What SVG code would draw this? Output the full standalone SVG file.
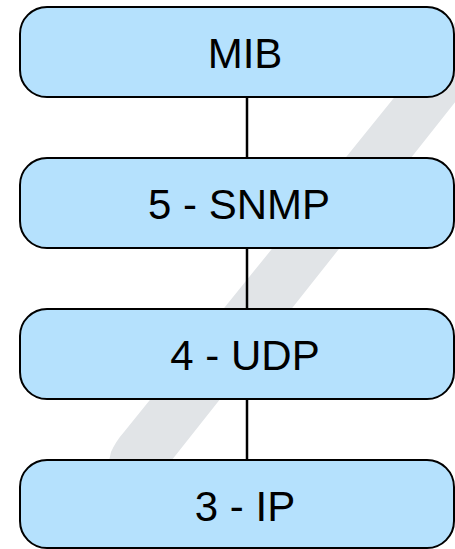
<svg xmlns="http://www.w3.org/2000/svg" width="455" height="549" viewBox="0 0 455 549">
<style>
.box{fill:#b5e1fd;stroke:#000;stroke-width:2}
.lbl{font-family:"Liberation Sans",Arial,sans-serif;font-size:42px;fill:#000;text-anchor:middle}
.conn{stroke:#000;stroke-width:2.5;fill:none}
</style>
<rect width="455" height="549" fill="#fff"/>
<path id="band" d="M536,0 L164,470 L107,470 L111,452 Q116,441 124,432 L473,0 Z" fill="#e1e4e7"/>
<g id="connectors">
<line class="conn" x1="247" y1="97" x2="247" y2="158"/>
<line class="conn" x1="247" y1="248" x2="247" y2="309"/>
<line class="conn" x1="247" y1="399" x2="247" y2="460"/>
</g>
<g id="mib"><rect class="box" x="20" y="7" width="434" height="90" rx="27" ry="27"/><text class="lbl" x="245" y="68">MIB</text></g>
<g id="snmp"><rect class="box" x="20" y="158" width="434" height="90" rx="27" ry="27"/><text class="lbl" x="239" y="219">5 - SNMP</text></g>
<g id="udp"><rect class="box" x="20" y="309" width="434" height="90" rx="27" ry="27"/><text class="lbl" x="245" y="370">4 - UDP</text></g>
<g id="ip"><rect class="box" x="20" y="460" width="434" height="88" rx="27" ry="27"/><text class="lbl" x="245" y="521">3 - IP</text></g>
</svg>
